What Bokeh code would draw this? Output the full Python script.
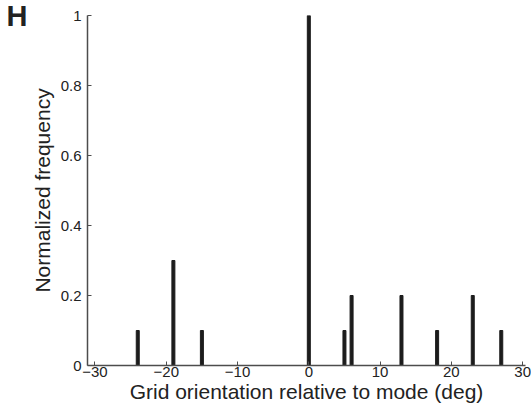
from bokeh.plotting import figure
from bokeh.models import FixedTicker, Range1d, LinearAxis
from bokeh.embed import file_html
from bokeh.resources import INLINE

# Data
orientations = [-24, -19, -15, 0, 5, 6, 13, 18, 23, 27]
frequencies = [0.1, 0.3, 0.1, 1.0, 0.1, 0.2, 0.2, 0.1, 0.2, 0.1]
x_ticks = [-30, -20, -10, 0, 10, 20, 30]
x_tick_labels = ["\u221230", "\u221220", "\u221210", "0", "10", "20", "30"]
y_ticks = [0, 0.2, 0.4, 0.6, 0.8, 1.0]
y_tick_labels = ["0", "0.2", "0.4", "0.6", "0.8", "1"]
panel_letter = "H"

FONT = "Liberation Sans"
TXT = "#222222"
AX = "#4d4d4d"

p = figure(width=531, height=408, output_backend="svg", toolbar_location=None,
           x_range=Range1d(-31.05, 30.4), y_range=Range1d(0, 1),
           min_border_left=87, min_border_right=6, min_border_top=15, min_border_bottom=43)
p.outline_line_color = None
p.xgrid.visible = False
p.ygrid.visible = False
p.background_fill_color = "white"
p.border_fill_color = "white"

p.vbar(x=orientations, top=frequencies, bottom=0, width=0.42, color="#1c1c1c")

for ax, ticks, labels in ((p.xaxis[0], x_ticks, x_tick_labels), (p.yaxis[0], y_ticks, y_tick_labels)):
    ax.ticker = FixedTicker(ticks=ticks)
    ax.major_label_overrides = {t: l for t, l in zip(ticks, labels)}
    ax.minor_tick_line_color = None
    ax.major_tick_in = 4
    ax.major_tick_out = 0
    ax.axis_line_color = AX
    ax.major_tick_line_color = AX
    ax.axis_line_width = 1.5
    ax.major_label_text_font = FONT
    ax.major_label_text_font_size = "15px"
    ax.major_label_text_color = TXT
    ax.axis_label_text_font = FONT
    ax.axis_label_text_font_size = "21px"
    ax.axis_label_text_font_style = "normal"
    ax.axis_label_text_color = TXT

p.xaxis.axis_label = "Grid orientation relative to mode (deg)"
p.yaxis.axis_label = "Normalized frequency"
p.xaxis.major_label_standoff = 1
p.xaxis.axis_label_standoff = 0
p.yaxis.major_label_standoff = 6
p.yaxis.axis_label_standoff = 4

# Panel letter: an extra, invisible left axis whose label is the letter
letter_axis = LinearAxis(ticker=FixedTicker(ticks=[]), axis_label=panel_letter,
                         axis_line_color=None, major_tick_line_color=None,
                         minor_tick_line_color=None, major_label_text_color=None,
                         major_tick_in=0, major_tick_out=0, major_label_standoff=0,
                         axis_label_standoff=0, axis_label_orientation="horizontal",
                         axis_label_align="end", axis_label_text_font=FONT,
                         axis_label_text_font_size="29px", axis_label_text_font_style="bold",
                         axis_label_text_color=TXT)
p.add_layout(letter_axis, "left")

open("out.html", "w").write(file_html(p, INLINE))
